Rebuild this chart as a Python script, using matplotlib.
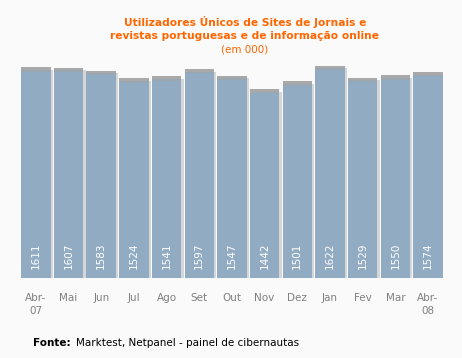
import matplotlib.pyplot as plt
import numpy as np

months = ['Abr-\n07', 'Mai', 'Jun', 'Jul', 'Ago', 'Set', 'Out', 'Nov', 'Dez', 'Jan', 'Fev', 'Mar', 'Abr-\n08']
users = [1611, 1607, 1583, 1524, 1541, 1597, 1547, 1442, 1501, 1622, 1529, 1550, 1574]

bg = '#fafafa'
fig = plt.figure(figsize=(4.62, 3.58), dpi=100, facecolor=bg)
ax = fig.add_axes([0.045, 0.2235, 0.914, 0.61], facecolor=bg)

x = np.arange(len(users))
# light shadow to the right of each bar
ax.bar(x + 0.07, users, width=0.9, color='#d6d6d6', zorder=1)
ax.bar(x, users, width=0.9, color='#91abc2', zorder=2)
# grey cap on top
ax.bar(x, 34, bottom=np.array(users) - 14, width=0.9, color='#a9a9a9', zorder=3)
ax.bar(x, 14, bottom=np.array(users) - 14, width=0.9, color='#9aa6b0', zorder=3)

for xi, v in zip(x, users):
    ax.text(xi, 170, str(v), rotation=90, ha='center', va='center',
            color='white', fontsize=7.5, zorder=4)

ax.set_xlim(-0.46, 12.46)
ax.set_ylim(0, 1690)
ax.set_xticks(x)
ax.set_xticklabels(months, fontsize=7.5, color='#808080', linespacing=1.3, va='top')
ax.tick_params(axis='x', length=0, pad=11)
ax.set_yticks([])
for s in ax.spines.values():
    s.set_visible(False)

fig.text(0.53, 0.92, 'Utilizadores Únicos de Sites de Jornais e\nrevistas portuguesas e de informação online',
         ha='center', va='center', color='#ff6600', fontsize=7.7, fontweight='bold', linespacing=1.3)
fig.text(0.53, 0.862, '(em 000)', ha='center', va='center', color='#ff6600', fontsize=7.5)

fig.text(0.071, 0.041, 'Fonte:', ha='left', va='center', color='black',
         fontsize=7.5, fontweight='bold')
fig.text(0.164, 0.041, 'Marktest, Netpanel - painel de cibernautas',
         ha='left', va='center', color='black', fontsize=7.5)

fig.savefig('out.png', dpi=100, facecolor=bg)
